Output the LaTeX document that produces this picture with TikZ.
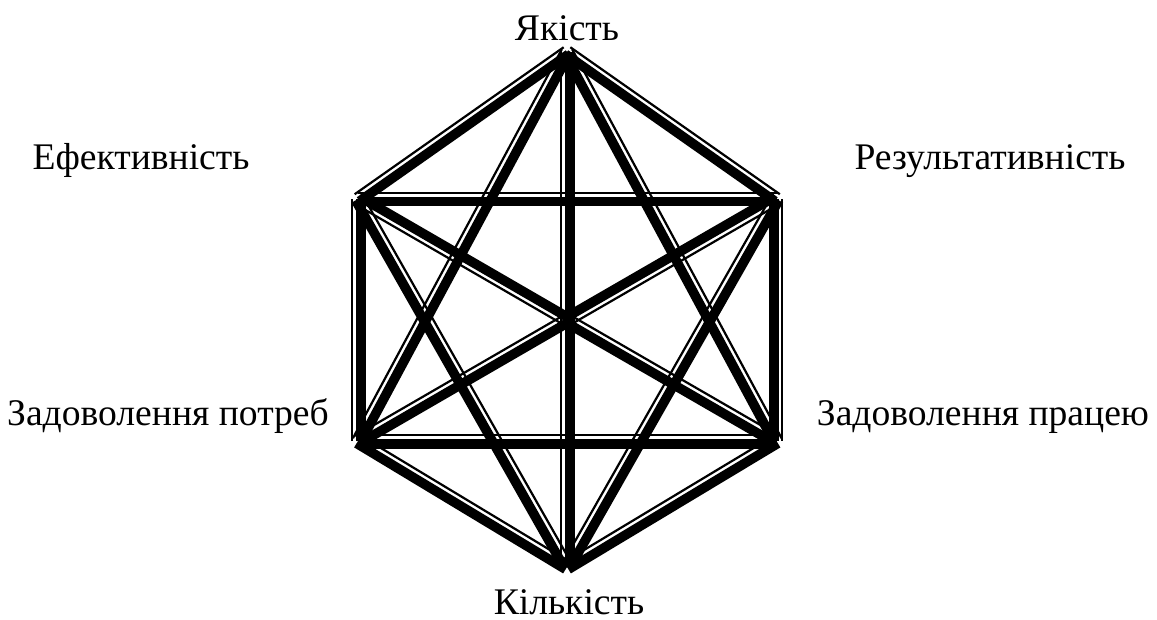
\documentclass[tikz,border=0pt]{standalone}
\usepackage{fontspec}
\setmainfont{Liberation Serif}
\usetikzlibrary{calc}
\tikzset{
  thickl/.style={line width=4.8pt},
  thinl/.style={line width=1.1pt},
  lbl/.style={font=\fontsize{18.8}{21}\selectfont, inner sep=0pt, anchor=base}
}
% double line: thin stroke on the left of #1 -> #2, thick stroke on the right
\newcommand\dline[2]{%
  \draw[thinl] ($(#1)!2.9pt!90:(#2)$) -- ($(#2)!2.9pt!-90:(#1)$);
  \draw[thickl] ($(#1)!1.35pt!-90:(#2)$) -- ($(#2)!1.35pt!90:(#1)$);}
\begin{document}
\begin{tikzpicture}[x=0.5pt,y=-0.5pt]
\useasboundingbox (0,0) rectangle (1157,620);
\coordinate (T)  at (567,52);
\coordinate (UR) at (776.5,199);
\coordinate (LR) at (776.5,441);
\coordinate (B)  at (567,567);
\coordinate (LL) at (358,441);
\coordinate (UL) at (358,199);
\coordinate (C)  at (567,320);
% hexagon sides
\dline{UL}{T}
\dline{T}{UR}
\dline{LL}{UL}
\dline{UR}{LR}
\dline{LL}{B}
\dline{B}{LR}
% horizontals and vertical
\dline{UL}{UR}
\dline{LL}{LR}
\dline{B}{T}
% diagonals from top and bottom
\dline{LL}{T}
\dline{T}{LR}
\dline{UL}{B}
\dline{B}{UR}
% diagonals through the centre
\dline{C}{UL}
\dline{C}{LR}
\dline{UR}{C}
\dline{LL}{C}
% labels
\node[lbl] (lT)  at (567,41)  {Якість};
\node[lbl] (lUL) at (141,170) {Ефективність};
\node[lbl] (lUR) at (990,170) {Результативність};
\node[lbl] (lLL) at (168,425) {Задоволення потреб};
\node[lbl] (lLR) at (983,425) {Задоволення працею};
\node[lbl] (lB)  at (569,614) {Кількість};
\end{tikzpicture}
\end{document}
